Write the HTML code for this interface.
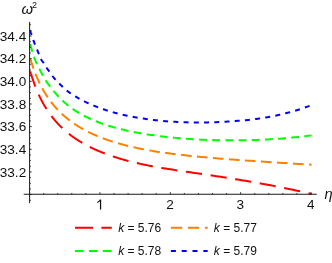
<!DOCTYPE html>
<html><head><meta charset="utf-8"><title>plot</title>
<style>
html,body{margin:0;padding:0;background:#fff;}
body{width:332px;height:263px;overflow:hidden;}
svg{display:block;will-change:transform;font-family:"Liberation Sans",sans-serif;}
.ax line{stroke:#1a1a1a;stroke-width:1;}
.ax .t line{stroke-width:0.85;}
.tl text{font-size:13.6px;fill:#111;}
.lg text{font-size:12px;fill:#111;}
.c path,.lg line{fill:none;stroke-width:2;}
</style></head><body>
<svg width="332" height="263" viewBox="0 0 332 263">
<g class="c">
<path d="M30.30 71.26 L30.40 71.62 L30.51 71.98 L30.61 72.34 L30.72 72.70 L30.83 73.07 L30.93 73.44 L31.04 73.81 L31.16 74.18 L31.27 74.55 L31.38 74.93 L31.50 75.30 L31.61 75.68 L31.73 76.06 L31.85 76.45 L31.97 76.83 L32.10 77.22 L32.22 77.60 L32.34 77.99 L32.47 78.38 L32.60 78.78 L32.73 79.17 L32.86 79.57 L32.99 79.96 L33.13 80.36 L33.26 80.76 L33.40 81.17 L33.54 81.57 L33.68 81.98 L33.82 82.38 L33.97 82.79 L34.11 83.20 L34.26 83.61 L34.41 84.02 L34.56 84.44 L34.72 84.85 L34.87 85.27 L35.03 85.68 L35.19 86.10 L35.35 86.52 L35.51 86.94 L35.67 87.37 L35.84 87.79 L36.01 88.21 L36.18 88.64 L36.35 89.07 L36.52 89.50 L36.70 89.93 L36.88 90.36 L37.06 90.79 L37.24 91.22 L37.42 91.65 L37.61 92.09 L37.80 92.52 L37.99 92.96 L38.18 93.40 L38.38 93.84 L38.58 94.27 L38.78 94.71 L38.98 95.16 L39.18 95.60 L39.39 96.04 L39.60 96.48 L39.81 96.93 L40.03 97.37 L40.25 97.82 L40.47 98.26 L40.69 98.71 L40.91 99.16 L41.14 99.61 L41.37 100.06 L41.61 100.50 L41.84 100.95 L42.08 101.41 L42.32 101.86 L42.57 102.31 L42.81 102.76 L43.06 103.21 L43.32 103.67 L43.57 104.12 L43.83 104.57 L44.09 105.03 L44.36 105.48 L44.63 105.94 L44.90 106.39 L45.17 106.85 L45.45 107.31 L45.73 107.76 L46.02 108.22 L46.31 108.68 L46.60 109.13 L46.89 109.59 L47.19 110.05 L47.49 110.51 L47.80 110.97 L48.11 111.42 L48.42 111.88 L48.74 112.34 L49.06 112.80 L49.38 113.26 L49.71 113.72 L50.04 114.17 L50.38 114.63 L50.72 115.09 L51.06 115.55 L51.41 116.01 L51.76 116.47 L52.11 116.92 L52.47 117.38 L52.84 117.84 L53.21 118.30 L53.58 118.75 L53.96 119.21 L54.34 119.67 L54.72 120.13 L55.12 120.58 L55.51 121.04 L55.91 121.49 L56.32 121.95 L56.72 122.40 L57.14 122.86 L57.56 123.31 L57.98 123.77 L58.41 124.22 L58.85 124.67 L59.29 125.13 L59.73 125.58 L60.18 126.03 L60.63 126.48 L61.10 126.93 L61.56 127.38 L62.03 127.83 L62.51 128.28 L62.99 128.73 L63.48 129.17 L63.97 129.62 L64.47 130.07 L64.98 130.51 L65.49 130.96 L66.01 131.40 L66.53 131.84 L67.06 132.29 L67.60 132.73 L68.14 133.17 L68.69 133.61 L69.25 134.05 L69.81 134.48 L70.38 134.92 L70.95 135.36 L71.54 135.79 L72.12 136.23 L72.72 136.66 L73.32 137.09 L73.93 137.52 L74.55 137.95 L75.18 138.38 L75.81 138.81 L76.45 139.23 L77.09 139.66 L77.75 140.08 L78.41 140.51 L79.08 140.93 L79.76 141.35 L80.45 141.77 L81.14 142.19 L81.84 142.60 L82.55 143.02 L83.27 143.43 L84.00 143.85 L84.74 144.26 L85.48 144.67 L86.23 145.08 L87.00 145.48 L87.77 145.89 L88.55 146.29 L89.34 146.70 L90.14 147.10 L90.95 147.50 L91.76 147.90 L92.59 148.29 L93.43 148.69 L94.28 149.08 L95.13 149.47 L96.00 149.86 L96.88 150.25 L97.77 150.64 L98.67 151.03 L99.57 151.41 L100.49 151.79 L101.43 152.17 L102.37 152.55 L103.32 152.93 L104.28 153.30 L105.26 153.67 L106.25 154.04 L107.24 154.41 L108.26 154.78 L109.28 155.14 L110.31 155.51 L111.36 155.87 L112.42 156.23 L113.49 156.58 L114.57 156.94 L115.67 157.29 L116.78 157.64 L117.90 157.99 L119.04 158.34 L120.19 158.68 L121.35 159.03 L122.53 159.37 L123.72 159.71 L124.92 160.04 L126.14 160.38 L127.37 160.71 L128.62 161.04 L129.88 161.36 L131.16 161.69 L132.45 162.01 L133.76 162.33 L135.09 162.65 L136.42 162.96 L137.78 163.27 L139.15 163.58 L140.54 163.89 L141.94 164.20 L143.36 164.50 L144.79 164.80 L146.25 165.10 L147.72 165.39 L149.21 165.69 L150.71 165.98 L152.23 166.26 L153.78 166.55 L155.33 166.83 L156.91 167.11 L158.51 167.39 L160.12 167.67 L161.76 167.94 L163.41 168.21 L165.08 168.49 L166.78 168.76 L168.49 169.03 L170.22 169.30 L171.98 169.58 L173.75 169.85 L175.54 170.12 L177.36 170.39 L179.20 170.67 L181.06 170.95 L182.94 171.22 L184.84 171.51 L186.77 171.79 L188.72 172.07 L190.69 172.36 L192.68 172.65 L194.70 172.95 L196.74 173.25 L198.81 173.55 L200.90 173.86 L203.01 174.17 L205.15 174.48 L207.32 174.80 L209.51 175.13 L211.73 175.46 L213.97 175.80 L216.24 176.14 L218.53 176.49 L220.86 176.85 L223.21 177.21 L225.59 177.58 L227.99 177.96 L230.43 178.34 L232.89 178.73 L235.38 179.14 L237.91 179.55 L240.46 179.96 L243.04 180.39 L245.65 180.83 L248.29 181.28 L250.97 181.74 L253.67 182.21 L256.41 182.69 L259.18 183.19 L261.98 183.69 L264.82 184.22 L267.69 184.75 L270.59 185.30 L273.53 185.86 L276.50 186.44 L279.51 187.03 L282.55 187.64 L285.63 188.27 L288.74 188.91 L291.90 189.57 L295.08 190.25 L298.31 190.95 L301.57 191.67 L304.88 192.40 L308.22 193.16 L311.60 193.93" stroke="#ff0000" stroke-dasharray="16.3 8.6"/>
<path d="M30.30 58.58 L30.40 58.92 L30.51 59.27 L30.61 59.61 L30.72 59.96 L30.83 60.31 L30.93 60.67 L31.04 61.02 L31.16 61.38 L31.27 61.74 L31.38 62.10 L31.50 62.46 L31.61 62.83 L31.73 63.20 L31.85 63.57 L31.97 63.94 L32.10 64.31 L32.22 64.68 L32.34 65.06 L32.47 65.44 L32.60 65.82 L32.73 66.20 L32.86 66.59 L32.99 66.97 L33.13 67.36 L33.26 67.75 L33.40 68.14 L33.54 68.53 L33.68 68.93 L33.82 69.32 L33.97 69.72 L34.11 70.12 L34.26 70.52 L34.41 70.92 L34.56 71.32 L34.72 71.73 L34.87 72.14 L35.03 72.54 L35.19 72.95 L35.35 73.36 L35.51 73.77 L35.67 74.19 L35.84 74.60 L36.01 75.02 L36.18 75.43 L36.35 75.85 L36.52 76.27 L36.70 76.69 L36.88 77.11 L37.06 77.54 L37.24 77.96 L37.42 78.39 L37.61 78.81 L37.80 79.24 L37.99 79.67 L38.18 80.10 L38.38 80.53 L38.58 80.96 L38.78 81.39 L38.98 81.83 L39.18 82.26 L39.39 82.69 L39.60 83.13 L39.81 83.57 L40.03 84.01 L40.25 84.44 L40.47 84.88 L40.69 85.32 L40.91 85.76 L41.14 86.20 L41.37 86.65 L41.61 87.09 L41.84 87.53 L42.08 87.98 L42.32 88.42 L42.57 88.87 L42.81 89.31 L43.06 89.76 L43.32 90.20 L43.57 90.65 L43.83 91.10 L44.09 91.55 L44.36 92.00 L44.63 92.44 L44.90 92.89 L45.17 93.34 L45.45 93.79 L45.73 94.24 L46.02 94.69 L46.31 95.14 L46.60 95.60 L46.89 96.05 L47.19 96.50 L47.49 96.95 L47.80 97.40 L48.11 97.85 L48.42 98.31 L48.74 98.76 L49.06 99.21 L49.38 99.66 L49.71 100.11 L50.04 100.57 L50.38 101.02 L50.72 101.47 L51.06 101.92 L51.41 102.37 L51.76 102.83 L52.11 103.28 L52.47 103.73 L52.84 104.18 L53.21 104.63 L53.58 105.08 L53.96 105.53 L54.34 105.98 L54.72 106.43 L55.12 106.88 L55.51 107.33 L55.91 107.78 L56.32 108.23 L56.72 108.68 L57.14 109.12 L57.56 109.57 L57.98 110.02 L58.41 110.46 L58.85 110.91 L59.29 111.35 L59.73 111.80 L60.18 112.24 L60.63 112.69 L61.10 113.13 L61.56 113.57 L62.03 114.01 L62.51 114.45 L62.99 114.89 L63.48 115.33 L63.97 115.77 L64.47 116.21 L64.98 116.65 L65.49 117.08 L66.01 117.52 L66.53 117.95 L67.06 118.38 L67.60 118.82 L68.14 119.25 L68.69 119.68 L69.25 120.11 L69.81 120.54 L70.38 120.96 L70.95 121.39 L71.54 121.82 L72.12 122.24 L72.72 122.66 L73.32 123.09 L73.93 123.51 L74.55 123.93 L75.18 124.34 L75.81 124.76 L76.45 125.18 L77.09 125.59 L77.75 126.01 L78.41 126.42 L79.08 126.83 L79.76 127.24 L80.45 127.64 L81.14 128.05 L81.84 128.46 L82.55 128.86 L83.27 129.26 L84.00 129.66 L84.74 130.06 L85.48 130.46 L86.23 130.85 L87.00 131.25 L87.77 131.64 L88.55 132.03 L89.34 132.42 L90.14 132.81 L90.95 133.20 L91.76 133.58 L92.59 133.96 L93.43 134.34 L94.28 134.72 L95.13 135.10 L96.00 135.47 L96.88 135.85 L97.77 136.22 L98.67 136.59 L99.57 136.96 L100.49 137.32 L101.43 137.69 L102.37 138.05 L103.32 138.41 L104.28 138.76 L105.26 139.12 L106.25 139.47 L107.24 139.83 L108.26 140.17 L109.28 140.52 L110.31 140.87 L111.36 141.21 L112.42 141.55 L113.49 141.89 L114.57 142.22 L115.67 142.56 L116.78 142.89 L117.90 143.22 L119.04 143.54 L120.19 143.87 L121.35 144.19 L122.53 144.51 L123.72 144.83 L124.92 145.14 L126.14 145.45 L127.37 145.76 L128.62 146.07 L129.88 146.37 L131.16 146.68 L132.45 146.98 L133.76 147.27 L135.09 147.57 L136.42 147.86 L137.78 148.15 L139.15 148.43 L140.54 148.72 L141.94 149.00 L143.36 149.27 L144.79 149.55 L146.25 149.82 L147.72 150.09 L149.21 150.36 L150.71 150.62 L152.23 150.88 L153.78 151.14 L155.33 151.39 L156.91 151.64 L158.51 151.89 L160.12 152.14 L161.76 152.38 L163.41 152.62 L165.08 152.86 L166.78 153.09 L168.49 153.32 L170.22 153.55 L171.98 153.78 L173.75 154.00 L175.54 154.22 L177.36 154.44 L179.20 154.66 L181.06 154.87 L182.94 155.09 L184.84 155.30 L186.77 155.50 L188.72 155.71 L190.69 155.92 L192.68 156.12 L194.70 156.32 L196.74 156.52 L198.81 156.72 L200.90 156.92 L203.01 157.11 L205.15 157.31 L207.32 157.50 L209.51 157.69 L211.73 157.88 L213.97 158.07 L216.24 158.26 L218.53 158.45 L220.86 158.64 L223.21 158.82 L225.59 159.01 L227.99 159.20 L230.43 159.38 L232.89 159.57 L235.38 159.75 L237.91 159.94 L240.46 160.12 L243.04 160.31 L245.65 160.49 L248.29 160.67 L250.97 160.86 L253.67 161.04 L256.41 161.23 L259.18 161.41 L261.98 161.60 L264.82 161.79 L267.69 161.98 L270.59 162.16 L273.53 162.35 L276.50 162.54 L279.51 162.73 L282.55 162.92 L285.63 163.12 L288.74 163.31 L291.90 163.51 L295.08 163.70 L298.31 163.90 L301.57 164.10 L304.88 164.30 L308.22 164.50 L311.60 164.71" stroke="#ff8000" stroke-dasharray="10.6 5.45"/>
<path d="M30.30 44.09 L30.40 44.47 L30.51 44.87 L30.61 45.27 L30.72 45.67 L30.83 46.08 L30.93 46.49 L31.04 46.91 L31.16 47.33 L31.27 47.76 L31.38 48.19 L31.50 48.62 L31.61 49.05 L31.73 49.49 L31.85 49.92 L31.97 50.36 L32.10 50.80 L32.22 51.24 L32.34 51.68 L32.47 52.12 L32.60 52.56 L32.73 53.00 L32.86 53.44 L32.99 53.87 L33.13 54.30 L33.26 54.73 L33.40 55.16 L33.54 55.58 L33.68 56.00 L33.82 56.42 L33.97 56.83 L34.11 57.23 L34.26 57.64 L34.41 58.03 L34.56 58.43 L34.72 58.82 L34.87 59.21 L35.03 59.59 L35.19 59.97 L35.35 60.35 L35.51 60.73 L35.67 61.11 L35.84 61.49 L36.01 61.86 L36.18 62.24 L36.35 62.61 L36.52 62.99 L36.70 63.36 L36.88 63.74 L37.06 64.12 L37.24 64.49 L37.42 64.87 L37.61 65.26 L37.80 65.64 L37.99 66.03 L38.18 66.42 L38.38 66.81 L38.58 67.21 L38.78 67.61 L38.98 68.01 L39.18 68.42 L39.39 68.84 L39.60 69.26 L39.81 69.68 L40.03 70.11 L40.25 70.54 L40.47 70.98 L40.69 71.41 L40.91 71.86 L41.14 72.30 L41.37 72.75 L41.61 73.20 L41.84 73.65 L42.08 74.11 L42.32 74.57 L42.57 75.03 L42.81 75.49 L43.06 75.95 L43.32 76.42 L43.57 76.88 L43.83 77.35 L44.09 77.81 L44.36 78.27 L44.63 78.73 L44.90 79.19 L45.17 79.64 L45.45 80.09 L45.73 80.53 L46.02 80.97 L46.31 81.40 L46.60 81.83 L46.89 82.26 L47.19 82.69 L47.49 83.11 L47.80 83.53 L48.11 83.95 L48.42 84.37 L48.74 84.79 L49.06 85.22 L49.38 85.64 L49.71 86.06 L50.04 86.49 L50.38 86.92 L50.72 87.36 L51.06 87.79 L51.41 88.23 L51.76 88.67 L52.11 89.12 L52.47 89.57 L52.84 90.01 L53.21 90.47 L53.58 90.92 L53.96 91.37 L54.34 91.83 L54.72 92.29 L55.12 92.75 L55.51 93.21 L55.91 93.67 L56.32 94.13 L56.72 94.60 L57.14 95.06 L57.56 95.52 L57.98 95.99 L58.41 96.45 L58.85 96.91 L59.29 97.38 L59.73 97.84 L60.18 98.30 L60.63 98.76 L61.10 99.22 L61.56 99.68 L62.03 100.14 L62.51 100.59 L62.99 101.05 L63.48 101.50 L63.97 101.95 L64.47 102.40 L64.98 102.84 L65.49 103.29 L66.01 103.73 L66.53 104.17 L67.06 104.61 L67.60 105.05 L68.14 105.48 L68.69 105.92 L69.25 106.35 L69.81 106.78 L70.38 107.21 L70.95 107.64 L71.54 108.06 L72.12 108.48 L72.72 108.90 L73.32 109.32 L73.93 109.74 L74.55 110.15 L75.18 110.57 L75.81 110.98 L76.45 111.39 L77.09 111.79 L77.75 112.20 L78.41 112.60 L79.08 113.00 L79.76 113.40 L80.45 113.79 L81.14 114.19 L81.84 114.58 L82.55 114.97 L83.27 115.36 L84.00 115.74 L84.74 116.13 L85.48 116.51 L86.23 116.89 L87.00 117.26 L87.77 117.64 L88.55 118.01 L89.34 118.38 L90.14 118.75 L90.95 119.12 L91.76 119.48 L92.59 119.84 L93.43 120.20 L94.28 120.55 L95.13 120.91 L96.00 121.26 L96.88 121.61 L97.77 121.96 L98.67 122.30 L99.57 122.64 L100.49 122.98 L101.43 123.32 L102.37 123.65 L103.32 123.99 L104.28 124.32 L105.26 124.64 L106.25 124.97 L107.24 125.29 L108.26 125.61 L109.28 125.93 L110.31 126.24 L111.36 126.55 L112.42 126.86 L113.49 127.17 L114.57 127.47 L115.67 127.78 L116.78 128.08 L117.90 128.37 L119.04 128.67 L120.19 128.96 L121.35 129.25 L122.53 129.53 L123.72 129.81 L124.92 130.09 L126.14 130.37 L127.37 130.65 L128.62 130.92 L129.88 131.19 L131.16 131.45 L132.45 131.72 L133.76 131.98 L135.09 132.24 L136.42 132.49 L137.78 132.75 L139.15 132.99 L140.54 133.24 L141.94 133.49 L143.36 133.73 L144.79 133.96 L146.25 134.20 L147.72 134.43 L149.21 134.66 L150.71 134.89 L152.23 135.11 L153.78 135.33 L155.33 135.55 L156.91 135.76 L158.51 135.97 L160.12 136.18 L161.76 136.38 L163.41 136.58 L165.08 136.78 L166.78 136.97 L168.49 137.16 L170.22 137.35 L171.98 137.53 L173.75 137.70 L175.54 137.88 L177.36 138.04 L179.20 138.21 L181.06 138.36 L182.94 138.51 L184.84 138.66 L186.77 138.80 L188.72 138.94 L190.69 139.07 L192.68 139.20 L194.70 139.32 L196.74 139.43 L198.81 139.54 L200.90 139.64 L203.01 139.73 L205.15 139.82 L207.32 139.90 L209.51 139.98 L211.73 140.05 L213.97 140.11 L216.24 140.16 L218.53 140.21 L220.86 140.25 L223.21 140.28 L225.59 140.31 L227.99 140.32 L230.43 140.33 L232.89 140.33 L235.38 140.33 L237.91 140.31 L240.46 140.29 L243.04 140.25 L245.65 140.21 L248.29 140.15 L250.97 140.08 L253.67 140.00 L256.41 139.91 L259.18 139.80 L261.98 139.68 L264.82 139.55 L267.69 139.40 L270.59 139.23 L273.53 139.05 L276.50 138.85 L279.51 138.63 L282.55 138.40 L285.63 138.14 L288.74 137.87 L291.90 137.58 L295.08 137.26 L298.31 136.93 L301.57 136.57 L304.88 136.19 L308.22 135.79 L311.60 135.37" stroke="#00ff00" stroke-dasharray="7.9 5.27"/>
<path d="M30.30 30.19 L30.40 30.61 L30.51 31.03 L30.61 31.44 L30.72 31.85 L30.83 32.26 L30.93 32.66 L31.04 33.06 L31.16 33.46 L31.27 33.85 L31.38 34.25 L31.50 34.64 L31.61 35.03 L31.73 35.41 L31.85 35.80 L31.97 36.18 L32.10 36.56 L32.22 36.94 L32.34 37.32 L32.47 37.70 L32.60 38.08 L32.73 38.45 L32.86 38.83 L32.99 39.21 L33.13 39.58 L33.26 39.96 L33.40 40.34 L33.54 40.72 L33.68 41.10 L33.82 41.48 L33.97 41.86 L34.11 42.24 L34.26 42.62 L34.41 43.01 L34.56 43.39 L34.72 43.78 L34.87 44.17 L35.03 44.57 L35.19 44.96 L35.35 45.36 L35.51 45.76 L35.67 46.17 L35.84 46.57 L36.01 46.99 L36.18 47.40 L36.35 47.82 L36.52 48.24 L36.70 48.67 L36.88 49.10 L37.06 49.53 L37.24 49.98 L37.42 50.42 L37.61 50.88 L37.80 51.34 L37.99 51.81 L38.18 52.29 L38.38 52.78 L38.58 53.29 L38.78 53.80 L38.98 54.33 L39.18 54.88 L39.39 55.44 L39.60 56.00 L39.81 56.56 L40.03 57.11 L40.25 57.65 L40.47 58.17 L40.69 58.65 L40.91 59.10 L41.14 59.51 L41.37 59.89 L41.61 60.25 L41.84 60.58 L42.08 60.90 L42.32 61.21 L42.57 61.51 L42.81 61.82 L43.06 62.13 L43.32 62.45 L43.57 62.80 L43.83 63.16 L44.09 63.55 L44.36 63.98 L44.63 64.44 L44.90 64.92 L45.17 65.42 L45.45 65.92 L45.73 66.42 L46.02 66.90 L46.31 67.37 L46.60 67.82 L46.89 68.26 L47.19 68.68 L47.49 69.09 L47.80 69.50 L48.11 69.90 L48.42 70.31 L48.74 70.73 L49.06 71.15 L49.38 71.59 L49.71 72.05 L50.04 72.52 L50.38 73.01 L50.72 73.51 L51.06 74.02 L51.41 74.53 L51.76 75.04 L52.11 75.54 L52.47 76.03 L52.84 76.50 L53.21 76.97 L53.58 77.43 L53.96 77.88 L54.34 78.33 L54.72 78.77 L55.12 79.20 L55.51 79.64 L55.91 80.07 L56.32 80.49 L56.72 80.92 L57.14 81.35 L57.56 81.78 L57.98 82.21 L58.41 82.65 L58.85 83.09 L59.29 83.53 L59.73 83.98 L60.18 84.44 L60.63 84.89 L61.10 85.35 L61.56 85.81 L62.03 86.28 L62.51 86.74 L62.99 87.20 L63.48 87.66 L63.97 88.12 L64.47 88.57 L64.98 89.03 L65.49 89.47 L66.01 89.91 L66.53 90.35 L67.06 90.78 L67.60 91.20 L68.14 91.62 L68.69 92.03 L69.25 92.43 L69.81 92.83 L70.38 93.23 L70.95 93.62 L71.54 94.01 L72.12 94.40 L72.72 94.78 L73.32 95.17 L73.93 95.55 L74.55 95.93 L75.18 96.31 L75.81 96.69 L76.45 97.06 L77.09 97.44 L77.75 97.82 L78.41 98.19 L79.08 98.57 L79.76 98.94 L80.45 99.32 L81.14 99.69 L81.84 100.06 L82.55 100.44 L83.27 100.81 L84.00 101.17 L84.74 101.54 L85.48 101.91 L86.23 102.28 L87.00 102.64 L87.77 103.00 L88.55 103.36 L89.34 103.72 L90.14 104.08 L90.95 104.44 L91.76 104.79 L92.59 105.15 L93.43 105.50 L94.28 105.85 L95.13 106.20 L96.00 106.54 L96.88 106.89 L97.77 107.23 L98.67 107.57 L99.57 107.91 L100.49 108.24 L101.43 108.58 L102.37 108.91 L103.32 109.24 L104.28 109.56 L105.26 109.89 L106.25 110.21 L107.24 110.53 L108.26 110.84 L109.28 111.16 L110.31 111.47 L111.36 111.78 L112.42 112.08 L113.49 112.38 L114.57 112.68 L115.67 112.98 L116.78 113.27 L117.90 113.56 L119.04 113.85 L120.19 114.13 L121.35 114.41 L122.53 114.69 L123.72 114.96 L124.92 115.23 L126.14 115.50 L127.37 115.76 L128.62 116.02 L129.88 116.27 L131.16 116.53 L132.45 116.77 L133.76 117.02 L135.09 117.26 L136.42 117.49 L137.78 117.73 L139.15 117.95 L140.54 118.18 L141.94 118.40 L143.36 118.61 L144.79 118.82 L146.25 119.03 L147.72 119.23 L149.21 119.43 L150.71 119.62 L152.23 119.81 L153.78 119.99 L155.33 120.17 L156.91 120.35 L158.51 120.52 L160.12 120.68 L161.76 120.84 L163.41 120.99 L165.08 121.14 L166.78 121.27 L168.49 121.41 L170.22 121.53 L171.98 121.65 L173.75 121.77 L175.54 121.87 L177.36 121.97 L179.20 122.06 L181.06 122.14 L182.94 122.22 L184.84 122.29 L186.77 122.34 L188.72 122.39 L190.69 122.43 L192.68 122.46 L194.70 122.49 L196.74 122.50 L198.81 122.50 L200.90 122.49 L203.01 122.48 L205.15 122.45 L207.32 122.41 L209.51 122.36 L211.73 122.30 L213.97 122.23 L216.24 122.15 L218.53 122.05 L220.86 121.95 L223.21 121.83 L225.59 121.70 L227.99 121.56 L230.43 121.40 L232.89 121.23 L235.38 121.05 L237.91 120.86 L240.46 120.65 L243.04 120.42 L245.65 120.17 L248.29 119.90 L250.97 119.60 L253.67 119.28 L256.41 118.93 L259.18 118.55 L261.98 118.13 L264.82 117.68 L267.69 117.19 L270.59 116.66 L273.53 116.09 L276.50 115.47 L279.51 114.80 L282.55 114.09 L285.63 113.32 L288.74 112.51 L291.90 111.63 L295.08 110.70 L298.31 109.71 L301.57 108.65 L304.88 107.53 L308.22 106.34 L311.60 105.09" stroke="#0000ff" stroke-dasharray="5 5.24"/>
</g>
<g class="ax">
<line x1="29.6" y1="21.9" x2="29.6" y2="203.1"/>
<line x1="23.7" y1="194.25" x2="316.8" y2="194.25"/>
<g class="t"><line x1="29.60" y1="194.25" x2="29.60" y2="192.15"/><line x1="43.67" y1="194.25" x2="43.67" y2="192.95"/><line x1="57.74" y1="194.25" x2="57.74" y2="192.95"/><line x1="71.81" y1="194.25" x2="71.81" y2="192.95"/><line x1="85.88" y1="194.25" x2="85.88" y2="192.95"/><line x1="99.95" y1="194.25" x2="99.95" y2="192.15"/><line x1="114.02" y1="194.25" x2="114.02" y2="192.95"/><line x1="128.09" y1="194.25" x2="128.09" y2="192.95"/><line x1="142.16" y1="194.25" x2="142.16" y2="192.95"/><line x1="156.23" y1="194.25" x2="156.23" y2="192.95"/><line x1="170.30" y1="194.25" x2="170.30" y2="192.15"/><line x1="184.37" y1="194.25" x2="184.37" y2="192.95"/><line x1="198.44" y1="194.25" x2="198.44" y2="192.95"/><line x1="212.51" y1="194.25" x2="212.51" y2="192.95"/><line x1="226.58" y1="194.25" x2="226.58" y2="192.95"/><line x1="240.65" y1="194.25" x2="240.65" y2="192.15"/><line x1="254.72" y1="194.25" x2="254.72" y2="192.95"/><line x1="268.79" y1="194.25" x2="268.79" y2="192.95"/><line x1="282.86" y1="194.25" x2="282.86" y2="192.95"/><line x1="296.93" y1="194.25" x2="296.93" y2="192.95"/><line x1="311.00" y1="194.25" x2="311.00" y2="192.15"/><line x1="29.6" y1="200.28" x2="30.90" y2="200.28"/><line x1="29.6" y1="194.62" x2="31.70" y2="194.62"/><line x1="29.6" y1="188.96" x2="30.90" y2="188.96"/><line x1="29.6" y1="183.29" x2="30.90" y2="183.29"/><line x1="29.6" y1="177.62" x2="30.90" y2="177.62"/><line x1="29.6" y1="171.96" x2="31.70" y2="171.96"/><line x1="29.6" y1="166.29" x2="30.90" y2="166.29"/><line x1="29.6" y1="160.63" x2="30.90" y2="160.63"/><line x1="29.6" y1="154.96" x2="30.90" y2="154.96"/><line x1="29.6" y1="149.30" x2="31.70" y2="149.30"/><line x1="29.6" y1="143.63" x2="30.90" y2="143.63"/><line x1="29.6" y1="137.97" x2="30.90" y2="137.97"/><line x1="29.6" y1="132.31" x2="30.90" y2="132.31"/><line x1="29.6" y1="126.64" x2="31.70" y2="126.64"/><line x1="29.6" y1="120.97" x2="30.90" y2="120.97"/><line x1="29.6" y1="115.31" x2="30.90" y2="115.31"/><line x1="29.6" y1="109.64" x2="30.90" y2="109.64"/><line x1="29.6" y1="103.98" x2="31.70" y2="103.98"/><line x1="29.6" y1="98.31" x2="30.90" y2="98.31"/><line x1="29.6" y1="92.65" x2="30.90" y2="92.65"/><line x1="29.6" y1="86.98" x2="30.90" y2="86.98"/><line x1="29.6" y1="81.32" x2="31.70" y2="81.32"/><line x1="29.6" y1="75.66" x2="30.90" y2="75.66"/><line x1="29.6" y1="69.99" x2="30.90" y2="69.99"/><line x1="29.6" y1="64.33" x2="30.90" y2="64.33"/><line x1="29.6" y1="58.66" x2="31.70" y2="58.66"/><line x1="29.6" y1="52.99" x2="30.90" y2="52.99"/><line x1="29.6" y1="47.33" x2="30.90" y2="47.33"/><line x1="29.6" y1="41.66" x2="30.90" y2="41.66"/><line x1="29.6" y1="36.00" x2="31.70" y2="36.00"/><line x1="29.6" y1="30.33" x2="30.90" y2="30.33"/><line x1="29.6" y1="24.67" x2="30.90" y2="24.67"/></g>
</g>
<g class="tl">
<text x="26.2" y="40.75" text-anchor="end">34.4</text><text x="26.2" y="63.41" text-anchor="end">34.2</text><text x="26.2" y="86.07" text-anchor="end">34.0</text><text x="26.2" y="108.73" text-anchor="end">33.8</text><text x="26.2" y="131.39" text-anchor="end">33.6</text><text x="26.2" y="154.05" text-anchor="end">33.4</text><text x="26.2" y="176.71" text-anchor="end">33.2</text>
<text x="170.00" y="209.4" text-anchor="middle">2</text><text x="240.35" y="209.4" text-anchor="middle">3</text><text x="310.70" y="209.4" text-anchor="middle">4</text><path d="M100.55 199.6V209.55" stroke="#111" stroke-width="1.25" fill="none"/><path d="M97.25 202.45Q99.4 201.5 100.35 199.7" stroke="#111" stroke-width="1.05" fill="none"/>
<text x="21.6" y="13.5" style="font-style:italic;font-size:14.8px">&#969;</text>
<text x="32.1" y="8.1" style="font-size:9px">2</text>
<text x="324.5" y="199.4" style="font-style:italic;font-size:14.6px">&#951;</text>
</g>
<g class="lg">
<line x1="75" y1="227.7" x2="111.8" y2="227.7" stroke="#ff0000" stroke-dasharray="18.1 8.3"/>
<line x1="170.9" y1="227.7" x2="207.7" y2="227.7" stroke="#ff8000" stroke-dasharray="11.3 5.7"/>
<line x1="75" y1="251.1" x2="111.8" y2="251.1" stroke="#00ff00" stroke-dasharray="8.7 5.2"/>
<line x1="170.9" y1="251.1" x2="207.7" y2="251.1" stroke="#0000ff" stroke-dasharray="5 5.8"/>
<text x="118.2" y="231.6"><tspan font-style="italic">k</tspan> = 5.76</text>
<text x="213.8" y="231.6"><tspan font-style="italic">k</tspan> = 5.77</text>
<text x="118.2" y="254.8"><tspan font-style="italic">k</tspan> = 5.78</text>
<text x="213.8" y="254.8"><tspan font-style="italic">k</tspan> = 5.79</text>
</g>
</svg>
</body></html>
